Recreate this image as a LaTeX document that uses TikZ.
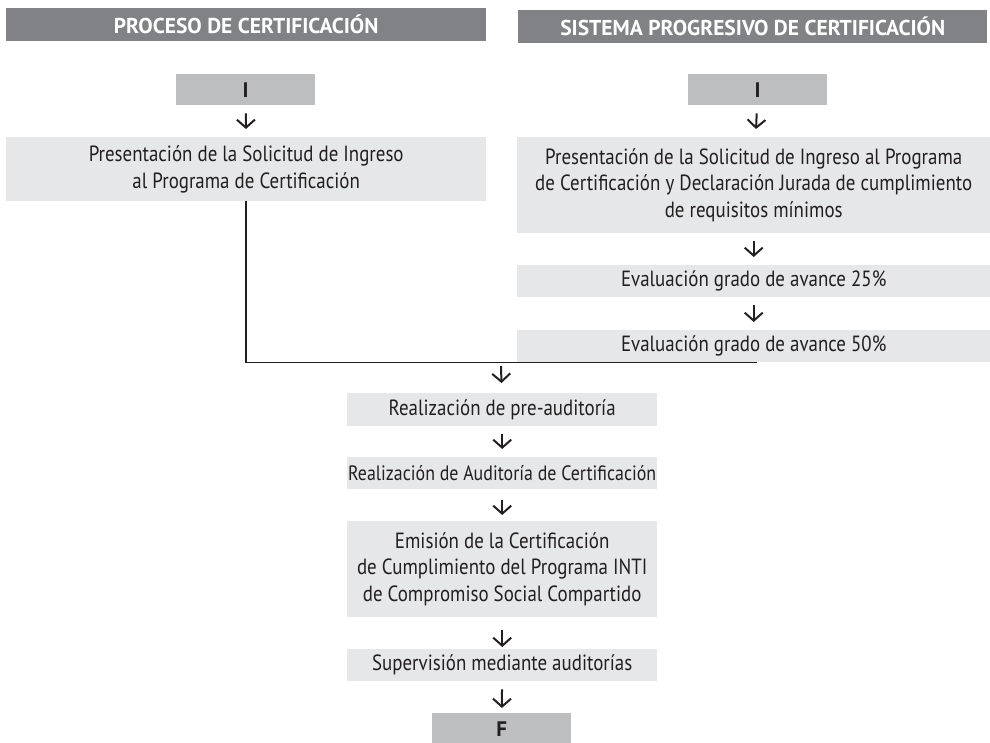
\documentclass[tikz,border=0pt]{standalone}
\usepackage{fontspec}
\setmainfont{PT Sans}
\newfontfamily\stepfont{PT Sans}[FakeStretch=0.86]
\usetikzlibrary{arrows.meta, positioning, calc}
\definecolor{headgray}{RGB}{128,130,133}
\definecolor{endgray}{RGB}{188,190,192}
\definecolor{stepgray}{RGB}{230,231,232}
\definecolor{inkgray}{RGB}{35,31,32}
\tikzset{
  headbox/.style={fill=headgray, text=white, inner sep=0pt, anchor=north west, minimum height=33pt, font=\bfseries\fontsize{21.5}{22}\selectfont},
  endbox/.style={fill=endgray, text=inkgray, inner sep=0pt, anchor=north west, minimum width=139pt, minimum height=31pt, font=\bfseries\fontsize{21}{22}\selectfont},
  stepbox/.style={fill=stepgray, text=inkgray, inner sep=0pt, anchor=north west, align=center, font=\stepfont\fontsize{22}{26.5}\selectfont},
  flowarrow/.style={-{Straight Barb[length=8pt, width=18pt]}, line width=2pt, inkgray, shorten <=8pt, shorten >=8pt},
  joinline/.style={line width=1.5pt, inkgray}
}
\begin{document}
\begin{tikzpicture}[x=1pt, y=-1pt]
  \useasboundingbox (0,0) rectangle (990,742);
  % headers
  \node[headbox, minimum width=480pt] (head1) at (6,8) {PROCESO DE CERTIFICACIÓN};
  \node[headbox, minimum width=469pt] (head2) at (518,10) {SISTEMA PROGRESIVO DE CERTIFICACIÓN};

  % Proceso de certificacion
  \node[endbox] (start1) at (176,74) {I};
  \node[stepbox, minimum width=480pt, minimum height=64pt] (pres1) at (6,137) {Presentación de la Solicitud de Ingreso\\al Programa de Certificación};
  \draw[flowarrow] (start1) -- (pres1);

  % Sistema progresivo
  \node[endbox] (start2) at (688,74) {I};
  \node[stepbox, minimum width=473pt, minimum height=96pt] (pres2) at (517,137) {Presentación de la Solicitud de Ingreso al Programa\\de Certificación y Declaración Jurada de cumplimiento\\de requisitos mínimos};
  \node[stepbox, minimum width=473pt, minimum height=32pt] (eval25) at (517,265) {Evaluación grado de avance 25\%};
  \node[stepbox, minimum width=473pt, minimum height=32pt] (eval50) at (517,330) {Evaluación grado de avance 50\%};
  \draw[flowarrow] (start2) -- (pres2);
  \draw[flowarrow] (pres2) -- (eval25);
  \draw[flowarrow] (eval25) -- (eval50);

  % union of both branches
  \coordinate (merge) at (501,366);
  \draw[joinline] (pres1.south) |- ($(eval50.south)+(3,0)$ |- merge) -- ($(eval50.south)+(3,0)$);

  % common steps
  \node[stepbox, minimum width=310pt, minimum height=33pt] (preaud) at (347,393) {Realización de pre-auditoría};
  \node[stepbox, minimum width=310pt, minimum height=32pt, font=\stepfont\fontsize{20.8}{26.5}\selectfont] (audit) at (347,457) {Realización de Auditoría de Certificación};
  \node[stepbox, minimum width=310pt, minimum height=96pt] (emis) at (347,521) {Emisión de la Certificación\\de Cumplimiento del Programa INTI\\de Compromiso Social Compartido};
  \node[stepbox, minimum width=310pt, minimum height=32pt] (superv) at (347,649) {Supervisión mediante auditorías};
  \node[endbox] (end) at (432,713) {F};
  \draw[flowarrow, shorten <=0pt, shorten >=10pt] (merge) -- (preaud);
  \draw[flowarrow] (preaud) -- (audit);
  \draw[flowarrow, shorten <=11pt, shorten >=6pt] (audit) -- (emis);
  \draw[flowarrow, shorten <=13pt, shorten >=2pt] (emis) -- (superv);
  \draw[flowarrow, shorten >=5pt] (superv) -- (end);
\end{tikzpicture}
\end{document}
